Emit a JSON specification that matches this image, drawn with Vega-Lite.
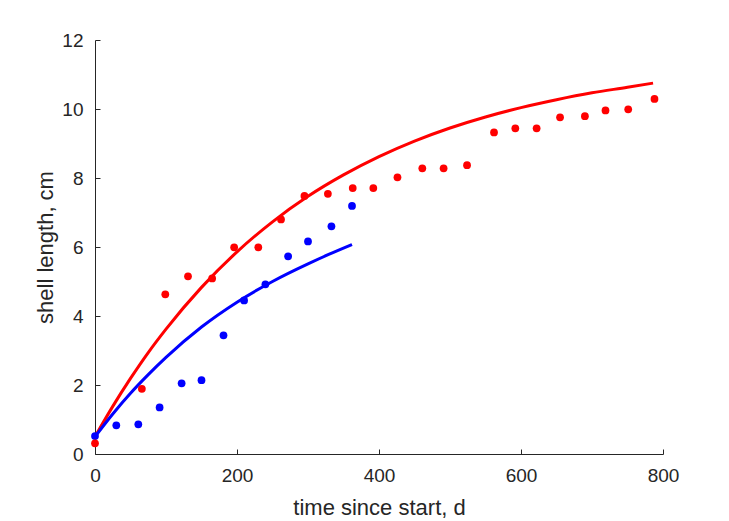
{
  "$schema": "https://vega.github.io/schema/vega-lite/v6.json",
  "width": 568,
  "height": 414,
  "autosize": {"type": "none"},
  "padding": {"left": 95, "top": 40, "right": 66, "bottom": 67},
  "background": "white",
  "config": {
    "view": {"stroke": null},
    "font": "Liberation Sans",
    "axis": {
      "grid": false,
      "domainColor": "#262626",
      "tickColor": "#262626",
      "labelColor": "#262626",
      "titleColor": "#262626",
      "labelFont": "Liberation Sans",
      "titleFont": "Liberation Sans",
      "labelFontSize": 19,
      "titleFontSize": 22,
      "titleFontWeight": "normal",
      "labelFlush": false,
      "labelOverlap": false,
      "domainWidth": 1,
      "tickWidth": 1
    }
  },
  "resolve": {"axis": {"x": "independent", "y": "independent"}},
  "datasets": {
    "pts": [
      {"series": "blue", "t": 0, "L": 0.52},
      {"series": "blue", "t": 30, "L": 0.83},
      {"series": "blue", "t": 61, "L": 0.86},
      {"series": "blue", "t": 91, "L": 1.35},
      {"series": "blue", "t": 122, "L": 2.05},
      {"series": "blue", "t": 150, "L": 2.14},
      {"series": "blue", "t": 181, "L": 3.44},
      {"series": "blue", "t": 210, "L": 4.45},
      {"series": "blue", "t": 240, "L": 4.92},
      {"series": "blue", "t": 272, "L": 5.73},
      {"series": "blue", "t": 300, "L": 6.16},
      {"series": "blue", "t": 333, "L": 6.6},
      {"series": "blue", "t": 362, "L": 7.19},
      {"series": "red", "t": 0, "L": 0.31},
      {"series": "red", "t": 66, "L": 1.89},
      {"series": "red", "t": 99, "L": 4.63},
      {"series": "red", "t": 131, "L": 5.15},
      {"series": "red", "t": 165, "L": 5.09},
      {"series": "red", "t": 196, "L": 5.99},
      {"series": "red", "t": 230, "L": 5.99},
      {"series": "red", "t": 262, "L": 6.8},
      {"series": "red", "t": 295, "L": 7.48},
      {"series": "red", "t": 328, "L": 7.54},
      {"series": "red", "t": 363, "L": 7.71},
      {"series": "red", "t": 392, "L": 7.71},
      {"series": "red", "t": 426, "L": 8.02},
      {"series": "red", "t": 461, "L": 8.28},
      {"series": "red", "t": 491, "L": 8.28},
      {"series": "red", "t": 524, "L": 8.37},
      {"series": "red", "t": 562, "L": 9.32},
      {"series": "red", "t": 592, "L": 9.44},
      {"series": "red", "t": 622, "L": 9.44},
      {"series": "red", "t": 655, "L": 9.76},
      {"series": "red", "t": 690, "L": 9.79},
      {"series": "red", "t": 719, "L": 9.96},
      {"series": "red", "t": 751, "L": 9.99},
      {"series": "red", "t": 788, "L": 10.29}
    ],
    "fit": [
      {"series": "red", "t": 0, "L": 0.5},
      {"series": "red", "t": 25, "L": 1.38},
      {"series": "red", "t": 50, "L": 2.19},
      {"series": "red", "t": 75, "L": 2.94},
      {"series": "red", "t": 100, "L": 3.62},
      {"series": "red", "t": 150, "L": 4.83},
      {"series": "red", "t": 200, "L": 5.86},
      {"series": "red", "t": 250, "L": 6.73},
      {"series": "red", "t": 300, "L": 7.47},
      {"series": "red", "t": 350, "L": 8.09},
      {"series": "red", "t": 400, "L": 8.62},
      {"series": "red", "t": 450, "L": 9.07},
      {"series": "red", "t": 500, "L": 9.45},
      {"series": "red", "t": 550, "L": 9.77},
      {"series": "red", "t": 600, "L": 10.04},
      {"series": "red", "t": 650, "L": 10.27},
      {"series": "red", "t": 700, "L": 10.47},
      {"series": "red", "t": 750, "L": 10.63},
      {"series": "red", "t": 786, "L": 10.75},
      {"series": "blue", "t": 0, "L": 0.5},
      {"series": "blue", "t": 25, "L": 1.16},
      {"series": "blue", "t": 50, "L": 1.76},
      {"series": "blue", "t": 75, "L": 2.3},
      {"series": "blue", "t": 100, "L": 2.8},
      {"series": "blue", "t": 150, "L": 3.68},
      {"series": "blue", "t": 200, "L": 4.4},
      {"series": "blue", "t": 250, "L": 5.0},
      {"series": "blue", "t": 300, "L": 5.51},
      {"series": "blue", "t": 330, "L": 5.79},
      {"series": "blue", "t": 362, "L": 6.07}
    ]
  },
  "layer": [
    {
      "data": {"name": "fit"},
      "mark": {"type": "line", "strokeWidth": 3, "interpolate": "monotone", "clip": false},
      "encoding": {
        "x": {"field": "t", "type": "quantitative", "scale": {"domain": [0, 800], "nice": false, "zero": false},
          "axis": {"orient": "bottom", "title": "time since start, d", "values": [0, 200, 400, 600, 800], "ticks": false, "labelPadding": 12, "titlePadding": 12}},
        "y": {"field": "L", "type": "quantitative", "scale": {"domain": [0, 12], "nice": false},
          "axis": {"orient": "left", "title": "shell length, cm", "values": [0, 2, 4, 6, 8, 10, 12], "ticks": false, "labelPadding": 12, "titlePadding": 4}},
        "color": {"field": "series", "type": "nominal", "scale": {"domain": ["red", "blue"], "range": ["#FF0000", "#0000FF"]}, "legend": null},
        "detail": {"field": "series"}
      }
    },
    {
      "data": {"name": "pts"},
      "mark": {"type": "circle", "size": 60, "opacity": 1},
      "encoding": {
        "x": {"field": "t", "type": "quantitative",
          "axis": {"orient": "top", "offset": -414, "title": null, "labels": false, "domain": false, "tickSize": 5, "values": [0, 200, 400, 600, 800]}},
        "y": {"field": "L", "type": "quantitative",
          "axis": {"orient": "right", "offset": -568, "title": null, "labels": false, "domain": false, "tickSize": 5, "values": [0, 2, 4, 6, 8, 10, 12]}},
        "color": {"field": "series", "type": "nominal", "legend": null}
      }
    }
  ]
}
